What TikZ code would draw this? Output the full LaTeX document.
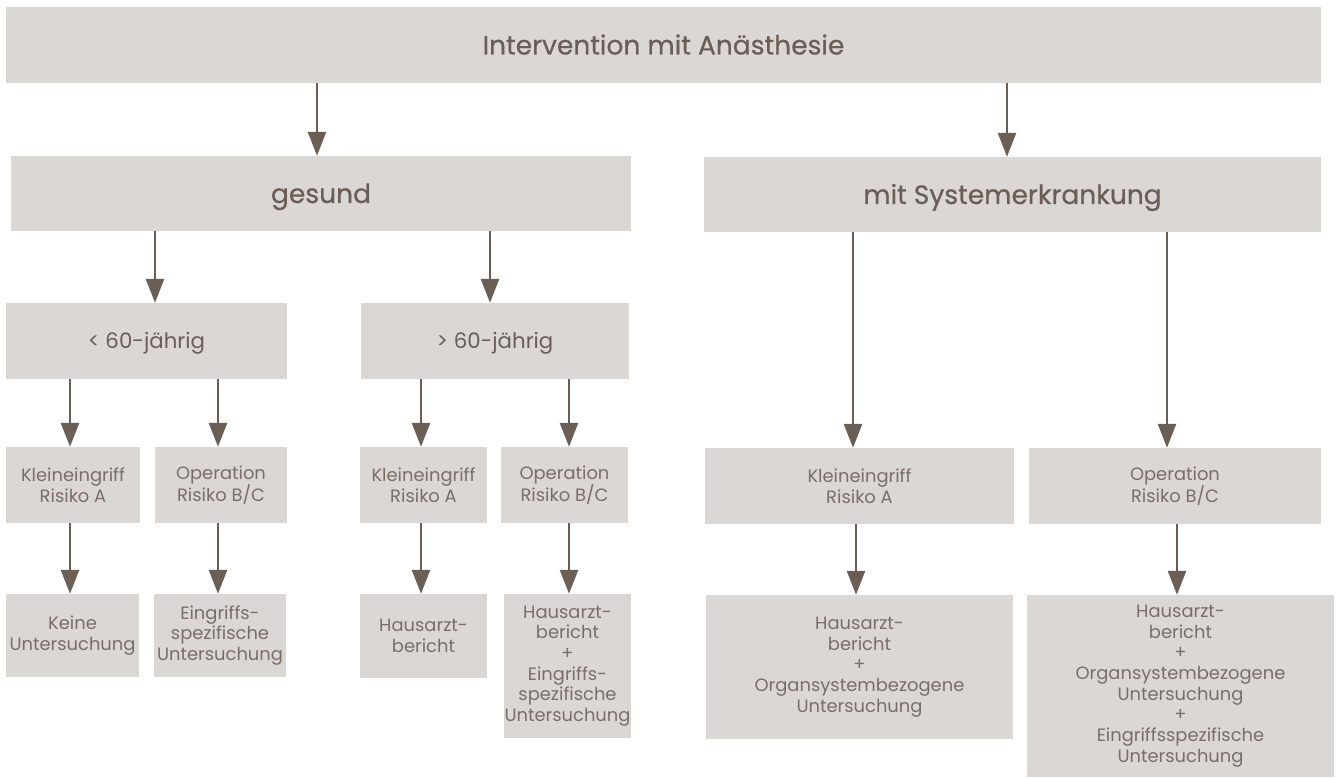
\documentclass[tikz,border=0pt]{standalone}
\usepackage{fontspec}
\setmainfont{Poppins}
\newfontfamily\medfont[FakeBold=0.5]{Poppins}
\usetikzlibrary{arrows.meta}
\definecolor{boxfill}{HTML}{DBD7D4}
\definecolor{txt}{HTML}{6B5E56}
\definecolor{arrowc}{HTML}{6B5E55}
\tikzset{
  box/.style={fill=boxfill, draw=none, inner sep=0pt, align=center, text=txt},
  bigtxt/.style={font=\medfont\fontsize{26.5}{30}\selectfont, text height=19pt, text depth=0pt},
  midtxt/.style={font=\fontsize{21.3}{25}\selectfont, text height=15pt, text depth=0pt},
  smalltxt/.style={font=\fontsize{17.9}{20.7}\selectfont, text=txt!90!white},
  arr/.style={draw=arrowc, line width=2.7pt, -{Triangle[width=18pt,length=24pt]}}
}
\begin{document}
\begin{tikzpicture}[x=1pt,y=-1pt]
\useasboundingbox (0,0) rectangle (1336,778);
% level 0
\node[box,bigtxt,minimum width=1315,minimum height=76] (top) at (663.5,45) {Intervention mit Anästhesie};
% level 1
\node[box,bigtxt,minimum width=620,minimum height=75] (ges) at (321,193.5) {gesund};
\node[box,bigtxt,minimum width=617,minimum height=75] (sys) at (1012.5,194.5) {mit Systemerkrankung};
% level 2
\node[box,midtxt,minimum width=281,minimum height=76] (lt) at (146.5,341) {< 60-jährig};
\node[box,midtxt,minimum width=268,minimum height=76] (gt) at (495,341) {> 60-jährig};
% level 3
\node[box,smalltxt,minimum width=134,minimum height=76] (k1) at (73,485) {Kleineingriff\\Risiko A};
\node[box,smalltxt,minimum width=132,minimum height=76] (o1) at (221,485) {Operation\\Risiko B/C};
\node[box,smalltxt,minimum width=127,minimum height=76] (k2) at (423.5,485) {Kleineingriff\\Risiko A};
\node[box,smalltxt,minimum width=127,minimum height=76] (o2) at (564.5,485) {Operation\\Risiko B/C};
\node[box,smalltxt,minimum width=309,minimum height=76] (k3) at (859.5,486) {Kleineingriff\\Risiko A};
\node[box,smalltxt,minimum width=292,minimum height=76] (o3) at (1175,486) {Operation\\Risiko B/C};
% level 4
\node[box,smalltxt,minimum width=133,minimum height=83] (r1) at (72.5,635.5) {Keine\\Untersuchung};
\node[box,smalltxt,minimum width=132,minimum height=83] (r2) at (220,635.5) {Eingriffs-\\spezifische\\Untersuchung};
\node[box,smalltxt,minimum width=127,minimum height=84] (r3) at (423.5,636) {Hausarzt-\\bericht};
\node[box,smalltxt,minimum width=127,minimum height=144] (r4) at (567.5,666) {Hausarzt-\\bericht\\+\\Eingriffs-\\spezifische\\Untersuchung};
\node[box,smalltxt,minimum width=307,minimum height=144] (r5) at (859.5,667) {Hausarzt-\\bericht\\+\\Organsystembezogene\\Untersuchung};
\node[box,smalltxt,minimum width=307,minimum height=182] (r6) at (1180.5,686) {Hausarzt-\\bericht\\+\\Organsystembezogene\\Untersuchung\\+\\Eingriffsspezifische\\Untersuchung};
% arrows
\draw[arr] (top.south -| 317,0) -- (ges.north -| 317,0);
\draw[arr] (top.south -| 1007,0) -- (sys.north -| 1007,0);
\draw[arr] (ges.south -| 155,0) -- (lt.north -| 155,0);
\draw[arr] (ges.south -| 490,0) -- (gt.north -| 490,0);
\draw[arr] (lt.south -| 70,0) -- (k1.north -| 70,0);
\draw[arr] (lt.south -| 218,0) -- (o1.north -| 218,0);
\draw[arr] (gt.south -| 421,0) -- (k2.north -| 421,0);
\draw[arr] (gt.south -| 569,0) -- (o2.north -| 569,0);
\draw[arr] (k1.south -| 70,0) -- (r1.north -| 70,0);
\draw[arr] (o1.south -| 218,0) -- (r2.north -| 218,0);
\draw[arr] (k2.south -| 421,0) -- (r3.north -| 421,0);
\draw[arr] (o2.south -| 569,0) -- (r4.north -| 569,0);
\draw[arr] (sys.south -| 853,0) -- (k3.north -| 853,0);
\draw[arr] (sys.south -| 1167,0) -- (o3.north -| 1167,0);
\draw[arr] (k3.south -| 856,0) -- (r5.north -| 856,0);
\draw[arr] (o3.south -| 1177,0) -- (r6.north -| 1177,0);
\end{tikzpicture}
\end{document}
